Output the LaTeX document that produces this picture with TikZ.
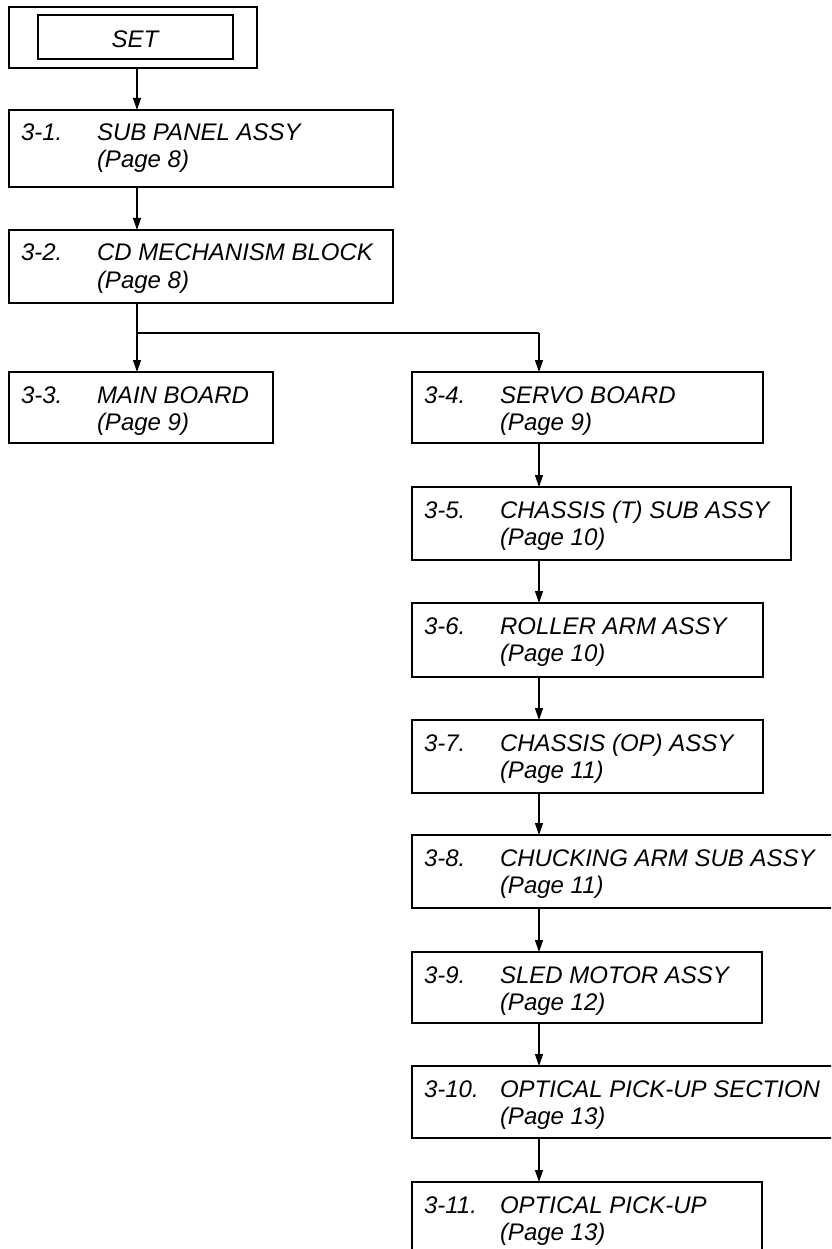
\documentclass[tikz,border=0pt]{standalone}
\usepackage{fontspec}
\setmainfont{Liberation Sans}
\usetikzlibrary{arrows.meta}
\tikzset{
  box/.style={draw=black, line width=2pt, rectangle, inner sep=0pt, outer sep=0pt},
  innerbox/.style={draw=black, line width=1.1pt, rectangle, inner sep=0pt, outer sep=0pt},
  txt/.style={inner sep=0pt, outer sep=0pt, text=black, font=\fontsize{24}{28}\selectfont\itshape},
  arr/.style={draw=black, line width=1.2pt, -{Triangle[length=12pt,width=8pt]}},
  link/.style={draw=black, line width=1.2pt}
}
\newcommand{\mybox}[8]{%
  \node[box, minimum width=#4, minimum height=#5, anchor=north west] (#1) at (#2,#3) {};
  \node[txt, anchor=base west] (#1n) at (#2+12,#3+31) {#6};
  \node[txt, anchor=base west] (#1t) at (#2+88,#3+31) {#7};
  \node[txt, anchor=base west] (#1p) at (#2+88,#3+58) {#8};
}
\begin{document}
\begin{tikzpicture}[x=1pt,y=-1pt]
\useasboundingbox (0,0) rectangle (831,1249);
\clip (0,0) rectangle (831,1249);
% SET
\node[box, minimum width=248, minimum height=61, anchor=north west] (setout) at (9,7) {};
\node[innerbox, minimum width=195, minimum height=44, anchor=north west] (setin) at (38,15) {};
\node[txt, anchor=base] (settxt) at (135,48) {SET};
% left column
\mybox{b1}{9}{110}{384}{77}{3-1.}{SUB PANEL ASSY}{(Page 8)}
\mybox{b2}{9}{230}{384}{73}{3-2.}{CD MECHANISM BLOCK}{(Page 8)}
\mybox{b3}{9}{372}{264}{71}{3-3.}{MAIN BOARD}{(Page 9)}
% right column
\mybox{b4}{412}{372}{351}{71}{3-4.}{SERVO BOARD}{(Page 9)}
\mybox{b5}{412}{487}{379}{73}{3-5.}{CHASSIS (T) SUB ASSY}{(Page 10)}
\mybox{b6}{412}{603}{351}{74}{3-6.}{ROLLER ARM ASSY}{(Page 10)}
\mybox{b7}{412}{720}{351}{73}{3-7.}{CHASSIS (OP) ASSY}{(Page 11)}
\mybox{b8}{412}{835}{440}{73}{3-8.}{CHUCKING ARM SUB ASSY}{(Page 11)}
\mybox{b9}{412}{952}{350}{71}{3-9.}{SLED MOTOR ASSY}{(Page 12)}
\mybox{b10}{412}{1066}{440}{72}{3-10.}{OPTICAL PICK-UP SECTION}{(Page 13)}
\mybox{b11}{412}{1182}{350}{90}{3-11.}{OPTICAL PICK-UP}{(Page 13)}
% connectors
\coordinate (colL) at (137,0);
\coordinate (colR) at (539,0);
\coordinate (jn) at (137,333);
\coordinate (jr) at (539,333);
\draw[arr] (setout.south -| colL) -- (b1.north -| colL);
\draw[arr] (b1.south -| colL) -- (b2.north -| colL);
\draw[arr] (b2.south -| colL) -- (b3.north -| colL);
\draw[link] (jn) -- (jr);
\draw[arr] (jr) -- (b4.north -| colR);
\draw[arr] (b4.south -| colR) -- (b5.north -| colR);
\draw[arr] (b5.south -| colR) -- (b6.north -| colR);
\draw[arr] (b6.south -| colR) -- (b7.north -| colR);
\draw[arr] (b7.south -| colR) -- (b8.north -| colR);
\draw[arr] (b8.south -| colR) -- (b9.north -| colR);
\draw[arr] (b9.south -| colR) -- (b10.north -| colR);
\draw[arr] (b10.south -| colR) -- (b11.north -| colR);
\end{tikzpicture}
\end{document}
